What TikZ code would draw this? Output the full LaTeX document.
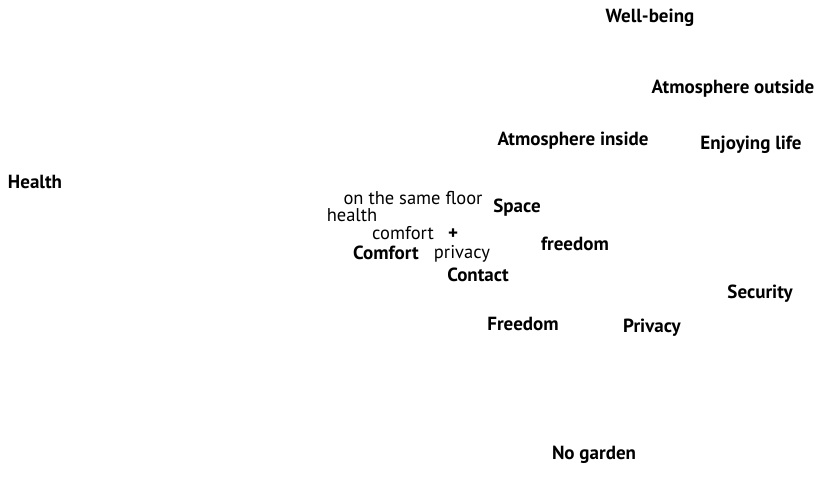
\documentclass[tikz,border=0pt]{standalone}
\usepackage{fontspec}
\setmainfont{PT Sans}
\usetikzlibrary{positioning}
\tikzset{
  factor/.style={font=\fontsize{19}{19}\selectfont\bfseries, inner sep=0pt, anchor=center},
  detail/.style={font=\fontsize{18.5}{18.5}\selectfont, inner sep=0pt, anchor=center}
}
\begin{document}
\begin{tikzpicture}[x=1pt, y=-1pt]
  \useasboundingbox (0,0) rectangle (821,496);

  % main factors
  \node[factor] (wellbeing) at (650,18) {Well-being};
  \node[factor] (atmout) at (733,89) {Atmosphere outside};
  \node[factor] (atmin) at (573,141) {Atmosphere inside};
  \node[factor] (enjoy) at (751,145) {Enjoying life};
  \node[factor] (health) at (35,182) {Health};
  \node[factor] (space) at (517,208) {Space};
  \node[factor] (freedomb) at (575,244) {freedom};
  \node[factor] (comfortb) at (386,253) {Comfort};
  \node[factor] (contact) at (478,275) {Contact};
  \node[factor] (security) at (760,294) {Security};
  \node[factor] (freedom) at (523,324) {Freedom};
  \node[factor] (privacyb) at (652,328) {Privacy};
  \node[factor] (nogarden) at (594,455) {No garden};

  % details
  \node[detail] (floor) at (413,198) {on the same floor};
  \node[detail] (healthd) at (352,215) {health};
  \node[detail] (comfort) at (403,233) {comfort};
  \node[factor] (plus) at (453,234) {+};
  \node[detail] (privacy) at (462,254) {privacy};
\end{tikzpicture}
\end{document}
